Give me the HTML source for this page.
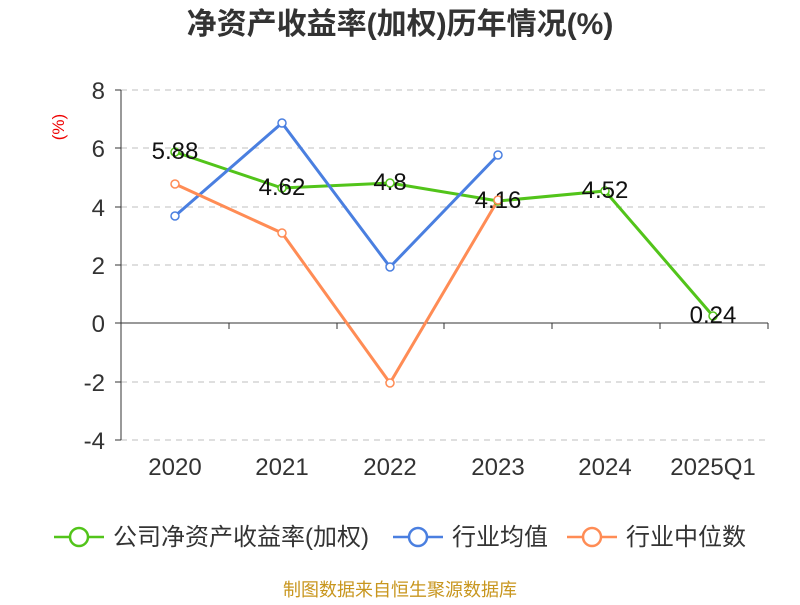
<!DOCTYPE html>
<html><head><meta charset="utf-8"><style>
body{margin:0;background:#fff;width:800px;height:600px;overflow:hidden}
text{font-family:"Liberation Sans","Noto Sans CJK SC",sans-serif}
</style></head><body>
<svg width="800" height="600" xmlns="http://www.w3.org/2000/svg">
<text x="400" y="34" text-anchor="middle" font-size="30" font-weight="bold" fill="#333">净资产收益率(加权)历年情况(%)</text>
<text x="64" y="127" font-size="17" fill="#e00" transform="rotate(-90 64 127)" text-anchor="middle">(%)</text>
<g stroke="#ccc" stroke-dasharray="6,5" stroke-width="1.2">
<line x1="121" y1="90" x2="768" y2="90"/><line x1="121" y1="148" x2="768" y2="148"/>
<line x1="121" y1="207" x2="768" y2="207"/><line x1="121" y1="265" x2="768" y2="265"/>
<line x1="121" y1="382" x2="768" y2="382"/><line x1="121" y1="440" x2="768" y2="440"/>
</g>
<g stroke="#333" stroke-width="1">
<line x1="121" y1="90" x2="121" y2="440"/>
<line x1="115" y1="90" x2="121" y2="90"/><line x1="115" y1="148" x2="121" y2="148"/>
<line x1="115" y1="207" x2="121" y2="207"/><line x1="115" y1="265" x2="121" y2="265"/>
<line x1="115" y1="323" x2="121" y2="323"/><line x1="115" y1="382" x2="121" y2="382"/>
<line x1="115" y1="440" x2="121" y2="440"/>
<line x1="121" y1="323" x2="768" y2="323"/>
<line x1="229" y1="323" x2="229" y2="329"/><line x1="337" y1="323" x2="337" y2="329"/>
<line x1="444" y1="323" x2="444" y2="329"/><line x1="552" y1="323" x2="552" y2="329"/>
<line x1="660" y1="323" x2="660" y2="329"/><line x1="768" y1="323" x2="768" y2="329"/>
</g>
<g font-size="24" fill="#333" text-anchor="end">
<text x="105" y="99">8</text><text x="105" y="157">6</text><text x="105" y="216">4</text>
<text x="105" y="274">2</text><text x="105" y="332">0</text><text x="105" y="391">-2</text><text x="105" y="449">-4</text>
</g>
<g font-size="24" fill="#333" text-anchor="middle">
<text x="175" y="475">2020</text><text x="282" y="475">2021</text><text x="390" y="475">2022</text>
<text x="498" y="475">2023</text><text x="605" y="475">2024</text><text x="713" y="475">2025Q1</text>
</g>
<g fill="none" stroke-width="3">
<polyline stroke="#52c41a" points="175,152 282,188 390,183 498,201 605,191 713,316"/>
<polyline stroke="#4a7fe0" points="175,216 282,123 390,267 498,155"/>
<polyline stroke="#ff8c55" points="175,184 282,233 390,383 498,200"/>
</g>
<g fill="#fff" stroke-width="1.5">
<g stroke="#52c41a"><circle cx="175" cy="152" r="4"/><circle cx="282" cy="188" r="4"/><circle cx="390" cy="183" r="4"/><circle cx="498" cy="201" r="4"/><circle cx="605" cy="191" r="4"/><circle cx="713" cy="316" r="4"/></g>
<g stroke="#4a7fe0"><circle cx="175" cy="216" r="4"/><circle cx="282" cy="123" r="4"/><circle cx="390" cy="267" r="4"/><circle cx="498" cy="155" r="4"/></g>
<g stroke="#ff8c55"><circle cx="175" cy="184" r="4"/><circle cx="282" cy="233" r="4"/><circle cx="390" cy="383" r="4"/><circle cx="498" cy="200" r="4"/></g>
</g>
<g font-size="24" fill="#111" text-anchor="middle">
<text x="175" y="159">5.88</text><text x="282" y="195">4.62</text><text x="390" y="190">4.8</text>
<text x="498" y="208">4.16</text><text x="605" y="198">4.52</text><text x="713" y="323">0.24</text>
</g>
<g stroke-width="2.5" fill="#fff">
<line x1="54" y1="537" x2="104" y2="537" stroke="#52c41a"/><circle cx="79" cy="537" r="9" stroke="#52c41a"/>
<line x1="393" y1="537" x2="443" y2="537" stroke="#4a7fe0"/><circle cx="418" cy="537" r="9" stroke="#4a7fe0"/>
<line x1="567" y1="537" x2="617" y2="537" stroke="#ff8c55"/><circle cx="592" cy="537" r="9" stroke="#ff8c55"/>
</g>
<g font-size="24" fill="#333">
<text x="113" y="545">公司净资产收益率(加权)</text><text x="452" y="545">行业均值</text><text x="626" y="545">行业中位数</text>
</g>
<text x="400" y="596" text-anchor="middle" font-size="18" fill="#c8961e">制图数据来自恒生聚源数据库</text>
</svg>
</body></html>
